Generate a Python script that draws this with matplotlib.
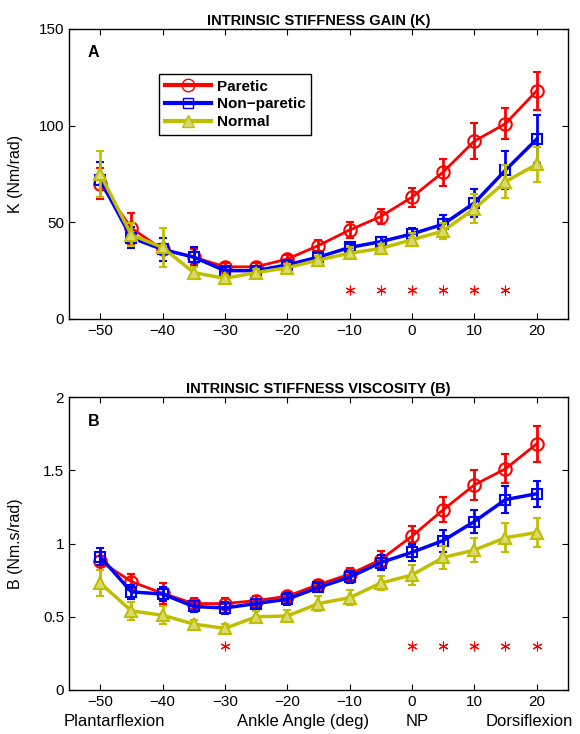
import numpy as np
import matplotlib.pyplot as plt
from matplotlib.lines import Line2D

plt.rcParams['font.family'] = ['Liberation Sans', 'DejaVu Sans']

angles = [-50, -45, -40, -35, -30, -25, -20, -15, -10, -5, 0, 5, 10, 15, 20]

# stiffness gain K (Nm/rad)
k_paretic = [70, 47, 36, 32, 27, 27, 31, 38, 46, 53, 63, 76, 92, 101, 118]
k_paretic_err = [8, 8, 6, 4, 2, 2, 2, 3, 4, 4, 5, 7, 9.5, 8, 10]
k_nonpar = [72, 42, 36, 32, 25, 25, 28, 32, 37, 40, 44, 49, 60, 77, 93]
k_nonpar_err = [9, 5.5, 6, 5, 2, 2, 2, 2, 2, 2.5, 3, 5, 7, 10, 12.5]
k_normal = [75, 43.5, 37, 24, 21, 24, 26.5, 30.5, 34, 36.5, 41, 45.5, 57, 71, 80]
k_normal_err = [12, 6, 10, 3, 2, 2, 2, 2, 3, 2.5, 3.5, 4, 7.5, 8.5, 9]
k_sig = [-10, -5, 0, 5, 10, 15]

# viscosity B (Nm.s/rad)
b_paretic = [0.88, 0.74, 0.66, 0.59, 0.59, 0.61, 0.64, 0.72, 0.79, 0.89, 1.05, 1.23, 1.40, 1.51, 1.68]
b_paretic_err = [0.06, 0.055, 0.07, 0.04, 0.04, 0.03, 0.03, 0.03, 0.04, 0.06, 0.07, 0.085, 0.10, 0.10, 0.12]
b_nonpar = [0.91, 0.67, 0.655, 0.57, 0.56, 0.59, 0.62, 0.70, 0.77, 0.87, 0.94, 1.02, 1.15, 1.30, 1.34]
b_nonpar_err = [0.06, 0.05, 0.05, 0.04, 0.04, 0.03, 0.04, 0.03, 0.04, 0.05, 0.06, 0.075, 0.08, 0.09, 0.09]
b_normal = [0.73, 0.54, 0.51, 0.45, 0.42, 0.50, 0.505, 0.59, 0.63, 0.73, 0.785, 0.905, 0.955, 1.04, 1.075]
b_normal_err = [0.09, 0.06, 0.06, 0.03, 0.03, 0.04, 0.04, 0.05, 0.05, 0.05, 0.07, 0.08, 0.08, 0.10, 0.10]
b_sig = [-30, 0, 5, 10, 15, 20]

red = (1, 0, 0)
blue = (0, 0, 1)
olive = (0.75, 0.75, 0)
olive_fill = (0.85, 0.85, 0.45)

fig = plt.figure(figsize=(5.8, 7.34), dpi=100)
ax1 = fig.add_axes([0.119, 0.5654, 0.860, 0.3951])
ax2 = fig.add_axes([0.119, 0.0600, 0.860, 0.3990])


def draw(ax, p, pe, n, ne, c, ce):
    ax.errorbar(angles, p, yerr=pe, color=red, lw=2, marker='o', ms=9, mfc='none',
                mew=1.5, capsize=3, capthick=2, elinewidth=2, zorder=3)
    ax.errorbar(angles, n, yerr=ne, color=blue, lw=2.5, marker='s', ms=7.5, mfc='none',
                mew=1.5, capsize=3, capthick=2, elinewidth=2, zorder=4)
    ax.errorbar(angles, c, yerr=ce, color=olive, lw=2.5, marker='^', ms=9, mfc=olive_fill,
                mew=1.5, capsize=3, capthick=2, elinewidth=2, zorder=5)


draw(ax1, k_paretic, k_paretic_err, k_nonpar, k_nonpar_err, k_normal, k_normal_err)
ax1.plot(k_sig, [15] * len(k_sig), ls='none', marker=(6, 2, 0), ms=7, color=red, mew=0.8)
ax1.set_ylim(0, 150)
ax1.set_yticks([0, 50, 100, 150])
ax1.set_ylabel('K (Nm/rad)', fontsize=11.5)
ax1.set_title('INTRINSIC STIFFNESS GAIN (K)', fontsize=10.5, fontweight='bold', pad=3)
ax1.text(-52, 138, 'A', fontsize=11.5, fontweight='bold', va='center')

handles = [
    Line2D([], [], color=red, lw=3, marker='o', ms=9, mfc='none', mew=1),
    Line2D([], [], color=blue, lw=3, marker='s', ms=7, mfc='none', mew=1),
    Line2D([], [], color=olive, lw=3, marker='^', ms=9, mfc=olive_fill, mew=1),
]
leg = ax1.legend(handles, ['Paretic', 'Non\u2212paretic', 'Normal'], loc='upper left',
                 bbox_to_anchor=(0.166, 0.870), fancybox=False, framealpha=1,
                 edgecolor='black', prop={'weight': 'bold', 'size': 11},
                 handlelength=3.0, handletextpad=0.4, borderpad=0.35, labelspacing=0.25)
leg.get_frame().set_linewidth(1.0)

draw(ax2, b_paretic, b_paretic_err, b_nonpar, b_nonpar_err, b_normal, b_normal_err)
ax2.plot(b_sig, [0.3] * len(b_sig), ls='none', marker=(6, 2, 0), ms=7, color=red, mew=0.8)
ax2.set_ylim(0, 2)
ax2.set_yticks([0, 0.5, 1, 1.5, 2])
ax2.set_yticklabels(['0', '0.5', '1', '1.5', '2'])
ax2.set_ylabel('B (Nm.s/rad)', fontsize=11.5)
ax2.set_title('INTRINSIC STIFFNESS VISCOSITY (B)', fontsize=10.5, fontweight='bold', pad=3)
ax2.text(-52, 1.83, 'B', fontsize=11.5, fontweight='bold', va='center')

for ax in (ax1, ax2):
    ax.set_xlim(-55, 25)
    ax.set_xticks(range(-50, 21, 10))
    ax.tick_params(direction='in', top=True, right=True, labelsize=11, length=4)
    ax.yaxis.set_label_coords(-0.092, 0.5)
    for s in ax.spines.values():
        s.set_linewidth(1.0)

fig.text(0.109, 0.0165, 'Plantarflexion', fontsize=12, ha='left', va='center')
fig.text(0.523, 0.0165, 'Ankle Angle (deg)', fontsize=12, ha='center', va='center')
fig.text(0.720, 0.0165, 'NP', fontsize=12, ha='center', va='center')
fig.text(0.988, 0.0165, 'Dorsiflexion', fontsize=12, ha='right', va='center')

fig.savefig('out.png', dpi=100)
